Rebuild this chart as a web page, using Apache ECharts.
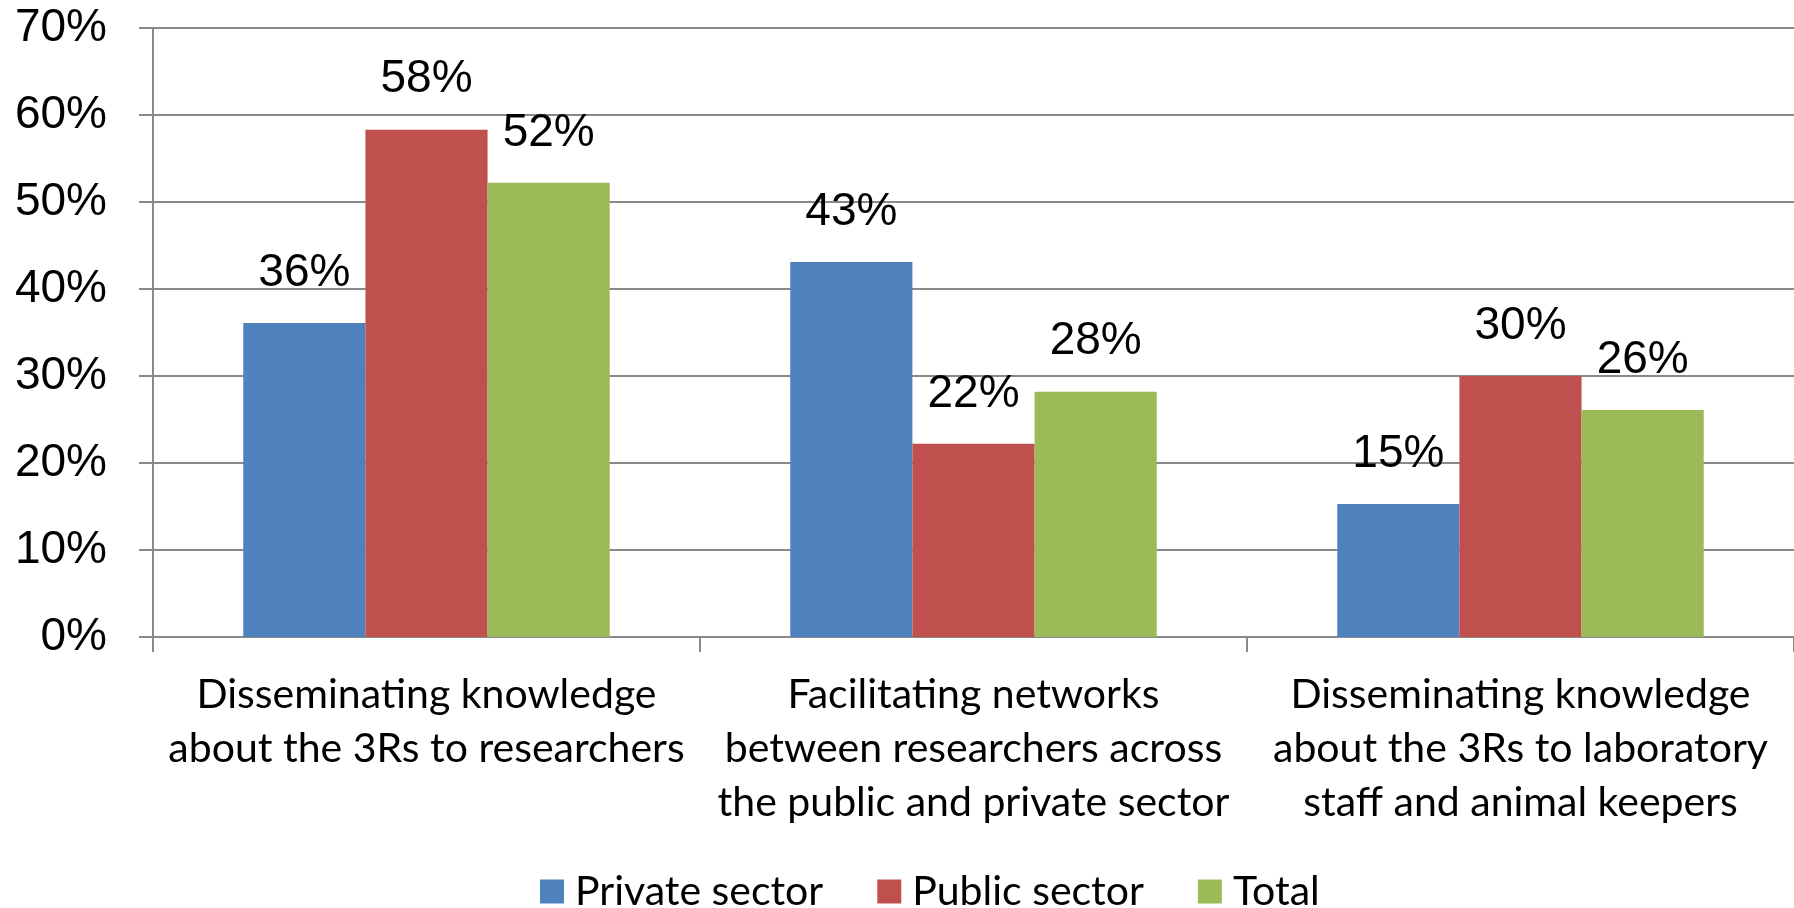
<!DOCTYPE html>
<html>
<head>
<meta charset="utf-8">
<script src="https://cdn.jsdelivr.net/npm/echarts@6/dist/echarts.min.js"></script>
<style>
  html, body { margin: 0; padding: 0; background: #fff; }
  #main { width: 1794px; height: 908px; }
</style>
</head>
<body>
<div id="main"></div>
<script>
// categories (line breaks as in the original)
var categories = [
  'Disseminating knowledge\nabout the 3Rs to researchers',
  'Facilitating networks\nbetween researchers across\nthe public and private sector',
  'Disseminating knowledge\nabout the 3Rs to laboratory\nstaff and animal keepers'
];
var seriesNames = ['Private sector', 'Public sector', 'Total'];
// values in %
var privateSector = [36.1, 43.1, 15.3];
var publicSector = [58.3, 22.2, 30.0];
var total = [52.2, 28.2, 26.1];
var colors = ['#4F81BD', '#C0504D', '#9BBB59'];

var chart = echarts.init(document.getElementById('main'));

var grey = '#898989';
var labelStyle = {
  show: true,
  position: 'top',
  distance: 27,
  fontFamily: 'Liberation Sans',
  fontSize: 46,
  lineHeight: 46,
  color: '#000',
  formatter: function (p) { return Math.round(p.value) + '%'; }
};

function makeSeries(name, data, color) {
  return {
    name: name,
    type: 'bar',
    data: data,
    itemStyle: { color: color },
    label: labelStyle,
    barGap: '0%',
    barCategoryGap: '33%'
  };
}

var option = {
  animation: false,
  color: colors,
  grid: {
    left: 153,
    right: -5,
    top: 28,
    bottom: 271,
    containLabel: false
  },
  legend: {
    data: seriesNames,
    left: 535,
    top: 866,
    itemWidth: 24,
    itemHeight: 24,
    itemGap: 54,
    icon: 'rect',
    textStyle: {
      fontFamily: 'Lato',
      fontSize: 41,
      color: '#000',
      padding: [0, 0, 0, 6]
    }
  },
  xAxis: {
    type: 'category',
    data: categories,
    axisLine: { lineStyle: { color: grey, width: 2 } },
    axisTick: { show: true, length: 15, lineStyle: { color: grey, width: 2 } },
    axisLabel: {
      interval: 0,
      margin: 31,
      fontFamily: 'Lato',
      fontSize: 41,
      lineHeight: 54,
      color: '#000',
      align: 'center'
    }
  },
  yAxis: {
    type: 'value',
    min: 0,
    max: 70,
    interval: 10,
    axisLine: { show: true, lineStyle: { color: grey, width: 2 } },
    axisTick: { show: true, length: 14, lineStyle: { color: grey, width: 2 } },
    splitLine: { show: true, lineStyle: { color: grey, width: 2 } },
    axisLabel: {
      margin: 46,
      fontFamily: 'Liberation Sans',
      fontSize: 46,
      color: '#000',
      formatter: '{value}%'
    }
  },
  series: [
    makeSeries(seriesNames[0], privateSector, colors[0]),
    makeSeries(seriesNames[1], publicSector, colors[1]),
    makeSeries(seriesNames[2], total, colors[2])
  ]
};

chart.setOption(option);
</script>
</body>
</html>
